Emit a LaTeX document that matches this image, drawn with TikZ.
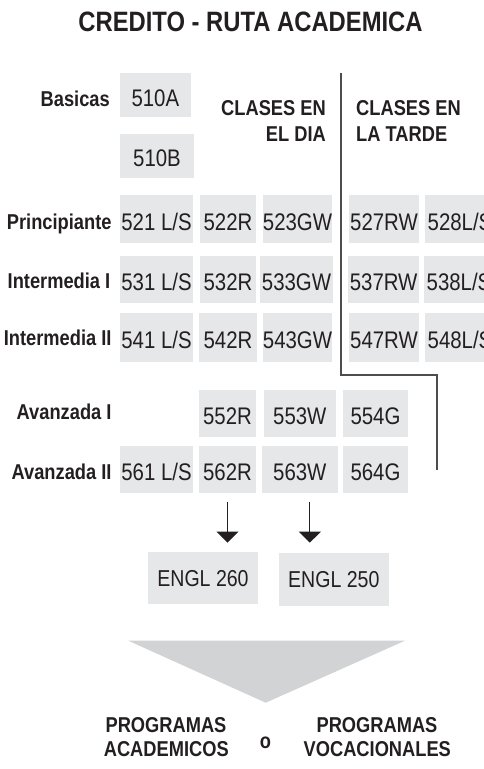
\documentclass[tikz,border=0pt]{standalone}
\usepackage{fontspec}
\setmainfont{Liberation Sans}[FakeStretch=0.85]
\usetikzlibrary{arrows.meta}
\definecolor{boxfill}{HTML}{E6E7E8}
\definecolor{trifill}{HTML}{D1D3D4}
\definecolor{ink}{HTML}{231F20}
\definecolor{rule}{HTML}{4D4D4D}
\tikzset{
  cell/.style={fill=boxfill, inner sep=0pt, text=ink, font=\fontsize{24}{24}\selectfont,
    text height=22pt, text depth=0pt, anchor=center},
  engl/.style={cell, font=\fontsize{23}{23}\selectfont, text height=16.5pt},
  lab/.style={font=\bfseries\fontsize{21.5}{21.5}\selectfont, text=ink, inner sep=0pt},
  divider/.style={draw=rule, line width=1.1pt},
  arr/.style={draw=ink, line width=1.1pt, -{Triangle[width=22pt,length=11pt]}}
}
\newcommand{\cellnode}[6]{\node[cell, minimum width=#4pt, minimum height=#5pt] (#1) at (#2,#3) {#6};}
\begin{document}
\begin{tikzpicture}[x=1pt,y=-1pt]
\useasboundingbox (0,0) rectangle (484,769);
% title
\node[font=\bfseries\fontsize{28}{28}\selectfont, text=ink, inner sep=0pt, anchor=base] (title) at (250.5,31.7) {CREDITO - RUTA ACADEMICA};
% divider
\draw[divider] (341,73) -- (341,375) -- (437,375) -- (437,470);
% headers
\node[lab, anchor=base east] (hd1) at (326,115) {CLASES EN};
\node[lab, anchor=base east] (hd2) at (326,141) {EL DIA};
\node[lab, anchor=base west] (ht1) at (356,115) {CLASES EN};
\node[lab, anchor=base west] (ht2) at (356,141) {LA TARDE};
% row labels
\node[lab, anchor=base east] (lbas) at (110,106.7) {Basicas};
\node[lab, anchor=base east] (lpri) at (111.7,229) {Principiante};
\node[lab, anchor=base east] (li1) at (110.5,288) {Intermedia I};
\node[lab, anchor=base east] (li2) at (111.7,345) {Intermedia II};
\node[lab, anchor=base east] (la1) at (111.7,419.3) {Avanzada I};
\node[lab, anchor=base east] (la2) at (111.7,479.3) {Avanzada II};
% basicas
\cellnode{b510A}{155.35}{95}{70.7}{43.4}{510A}
\cellnode{b510B}{157}{155.85}{74}{43.7}{510B}
% principiante
\cellnode{b521}{156.5}{219.2}{73}{48.3}{521 L/S}
\cellnode{b522}{228}{219.2}{56}{48.3}{522R}
\cellnode{b523}{297.5}{219.2}{69}{48.3}{523GW}
\cellnode{b527}{384}{219.2}{70}{48.3}{527RW}
\cellnode{b528}{460}{219.2}{70}{48.3}{528L/S}
% intermedia I
\cellnode{b531}{156.5}{279.25}{73}{47.5}{531 L/S}
\cellnode{b532}{228}{279.25}{56}{47.5}{532R}
\cellnode{b533}{296.5}{279.25}{73}{47.5}{533GW}
\cellnode{b537}{383.65}{279.25}{70.7}{47.5}{537RW}
\cellnode{b538}{459}{279.25}{70}{47.5}{538L/S}
% intermedia II
\cellnode{b541}{156.5}{337.5}{73}{48.4}{541 L/S}
\cellnode{b542}{228}{337.5}{58}{48.4}{542R}
\cellnode{b543}{297.5}{337.5}{69}{48.4}{543GW}
\cellnode{b547}{384}{337.5}{70}{48.4}{547RW}
\cellnode{b548}{460}{337.5}{70}{48.4}{548L/S}
% avanzada I
\cellnode{b552}{227.5}{413.35}{57}{46.7}{552R}
\cellnode{b553}{299.85}{413.35}{71.7}{46.7}{553W}
\cellnode{b554}{375.5}{413.35}{65}{46.7}{554G}
% avanzada II
\cellnode{b561}{156.5}{469.65}{73}{47.3}{561 L/S}
\cellnode{b562}{227.5}{469.65}{57}{47.3}{562R}
\cellnode{b563}{299.85}{469.65}{75.7}{47.3}{563W}
\cellnode{b564}{375.5}{469.65}{65}{47.3}{564G}
% ENGL
\node[engl, minimum width=109.4pt, minimum height=52pt] (e260) at (203,578.3) {ENGL 260};
\node[engl, minimum width=109.7pt, minimum height=52.4pt] (e250) at (333.85,579.5) {ENGL 250};
% arrows
\draw[arr] ([yshift=-8pt]b562.south) -- ([yshift=9.5pt]b562.south |- e260.north);
\draw[arr] ([xshift=10pt,yshift=-8.5pt]b563.south) -- ([xshift=10pt,yshift=9.5pt]b563.south |- e260.north);
% funnel
\fill[trifill] (128.3,640.7) -- (405,640.7) -- (265.7,702.7) -- cycle;
% outcomes
\node[lab, anchor=base] (pa1) at (166,732) {PROGRAMAS};
\node[lab, anchor=base] (pa2) at (166.3,756.7) {ACADEMICOS};
\node[lab, anchor=base] (oo) at (265.5,748.3) {o};
\node[lab, anchor=base] (pv1) at (377,732) {PROGRAMAS};
\node[lab, anchor=base] (pv2) at (377.3,756.7) {VOCACIONALES};
\end{tikzpicture}
\end{document}
